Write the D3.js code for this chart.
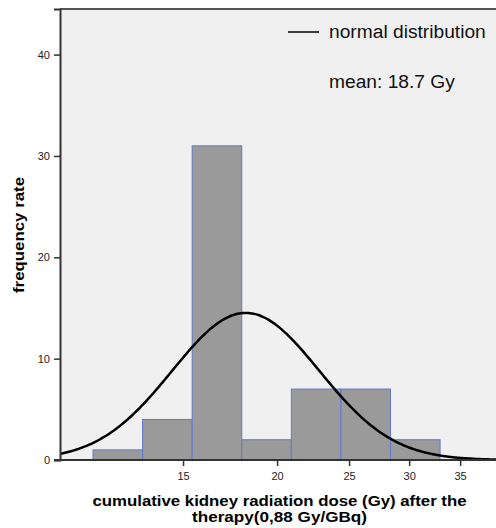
<!DOCTYPE html>
<html>
<head>
<meta charset="utf-8">
<script src="https://cdn.jsdelivr.net/npm/d3@7"></script>
<style>
  body { margin: 0; background: #fff; }
  text { font-family: "Liberation Sans", Arial, sans-serif; }
</style>
</head>
<body>
<div id="chart"></div>
<script>
// histogram bins (Gy) and counts
var binStart = 11;
var binWidth = 2.5;
var counts = [1, 4, 31, 2, 7, 7, 2];

// normal curve parameters
var mean = 18.7;
var sd = 3.71;

// x tick labels as printed, and where they sit on the dose axis
var tickPos = [15.54, 20.28, 23.91, 26.94, 29.51];
var tickLabels = ["15", "20", "25", "30", "35"];
var yTicks = [0, 10, 20, 30, 40];

var svgWidth = 496;
var svgHeight = 528;
var margin = { top: 9, right: -2, bottom: 68, left: 60 };
var width = svgWidth - margin.left - margin.right;
var height = svgHeight - margin.top - margin.bottom;

var svg = d3.select("#chart").append("svg")
  .attr("width", svgWidth)
  .attr("height", svgHeight);

var g = svg.append("g")
  .attr("transform", `translate(${margin.left}, ${margin.top})`);

var n = d3.sum(counts);
var bins = counts.map((c, i) => ({ x0: binStart + i * binWidth, x1: binStart + (i + 1) * binWidth, count: c }));

var x = d3.scaleLinear().domain([9.336, 31.42]).range([0, width]);
var y = d3.scaleLinear().domain([0, 44.5]).range([height, 0]);

g.append("rect")
  .attr("width", width).attr("height", height)
  .attr("fill", "#f0f0f0");

svg.append("defs").append("clipPath").attr("id", "clip")
  .append("rect").attr("width", width).attr("height", height);

g.selectAll(".bar")
  .data(bins)
  .enter().append("rect")
  .attr("class", "bar")
  .attr("x", d => x(d.x0))
  .attr("width", d => x(d.x1) - x(d.x0))
  .attr("y", d => y(d.count))
  .attr("height", d => y(0) - y(d.count))
  .attr("fill", "#9a9a9a")
  .attr("stroke", "#6378cc")
  .attr("stroke-width", 1);

var curve = d3.range(x.domain()[0], x.domain()[1] + 0.1, 0.1).map(v => ({
  x: v,
  y: n * binWidth * Math.exp(-0.5 * Math.pow((v - mean) / sd, 2)) / (sd * Math.sqrt(2 * Math.PI))
}));

g.append("path")
  .datum(curve)
  .attr("clip-path", "url(#clip)")
  .attr("fill", "none")
  .attr("stroke", "#000")
  .attr("stroke-width", 2.5)
  .attr("d", d3.line().x(d => x(d.x)).y(d => y(d.y)).curve(d3.curveBasis));

// frame: top and left
g.append("line").attr("x1", 0).attr("x2", width).attr("y1", 0).attr("y2", 0)
  .attr("stroke", "#555").attr("stroke-width", 2);

var yAxis = g.append("g")
  .call(d3.axisLeft(y).tickValues(yTicks).tickSize(6).tickPadding(4));

var xAxis = g.append("g")
  .attr("transform", `translate(0, ${height})`)
  .call(d3.axisBottom(x).tickValues(tickPos).tickFormat((d, i) => tickLabels[i]).tickSize(6).tickPadding(6));

[yAxis, xAxis].forEach(function (a) {
  a.select(".domain").attr("stroke", "#333").attr("stroke-width", 2);
  a.selectAll(".tick line").attr("stroke", "#333").attr("stroke-width", 1.5);
  a.selectAll(".tick text").attr("font-size", 11).attr("fill", "#222")
    .style("font-family", "'Liberation Sans', Arial, sans-serif");
});
xAxis.select(".domain").attr("d", `M-6,0H${width}`);

// legend
var legend = svg.append("g");
legend.append("line")
  .attr("x1", 288).attr("x2", 319).attr("y1", 32).attr("y2", 32)
  .attr("stroke", "#000").attr("stroke-width", 1.5);
legend.append("text").attr("x", 329).attr("y", 38)
  .attr("font-size", 19.2).attr("fill", "#111").text("normal distribution");
legend.append("text").attr("x", 329).attr("y", 88)
  .attr("font-size", 19.2).attr("fill", "#111").text("mean: 18.7 Gy");

// axis titles
svg.append("text")
  .attr("x", 279.5).attr("y", 506)
  .attr("text-anchor", "middle").attr("font-size", 15.5).attr("font-weight", "bold")
  .attr("textLength", 374).attr("lengthAdjust", "spacingAndGlyphs")
  .text("cumulative kidney radiation dose (Gy) after the");
svg.append("text")
  .attr("x", 279.5).attr("y", 522)
  .attr("text-anchor", "middle").attr("font-size", 15.5).attr("font-weight", "bold")
  .attr("textLength", 175).attr("lengthAdjust", "spacingAndGlyphs")
  .text("therapy(0,88 Gy/GBq)");

svg.append("text")
  .attr("transform", "translate(24, 235) rotate(-90)")
  .attr("text-anchor", "middle").attr("font-size", 15.5).attr("font-weight", "bold")
  .attr("textLength", 116).attr("lengthAdjust", "spacingAndGlyphs")
  .text("frequency rate");
</script>
</body>
</html>
